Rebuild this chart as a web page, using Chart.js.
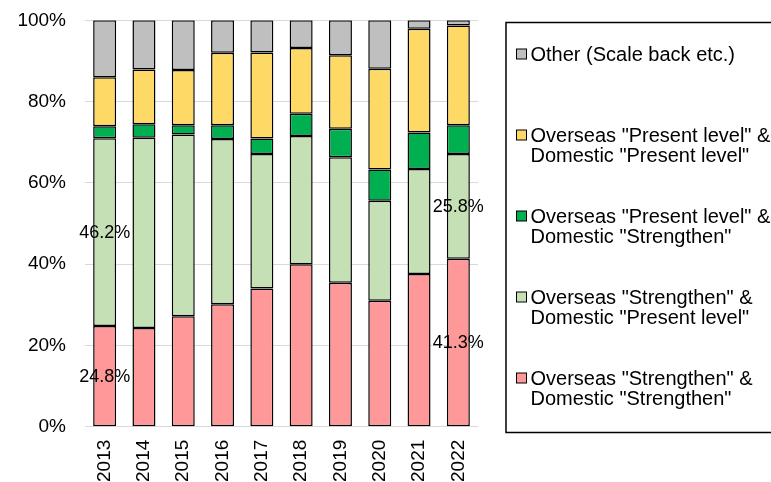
<!DOCTYPE html>
<html>
<head>
<meta charset="utf-8">
<script src="https://cdn.jsdelivr.net/npm/chart.js@4.4.1/dist/chart.umd.min.js"></script>
<style>
  html, body { margin: 0; padding: 0; background: #fff; }
  #wrap { width: 771px; height: 482px; position: relative; }
</style>
</head>
<body>
<div id="wrap"><canvas id="c" width="771" height="482"></canvas></div>
<script>
// Survey years
const years = ['2013', '2014', '2015', '2016', '2017', '2018', '2019', '2020', '2021', '2022'];

// Share of responses per year (%), bottom to top of each stack
const strengthenBoth      = [24.8, 24.3, 27.2, 30.1, 34.0, 40.0, 35.4, 31.0, 37.6, 41.3];
const strengthenOverseas  = [46.2, 46.8, 44.7, 40.7, 33.1, 31.5, 30.9, 24.6, 25.8, 25.8];
const strengthenDomestic  = [2.9, 3.3, 2.3, 3.4, 3.8, 5.5, 7.0, 7.7, 9.0, 7.1];
const presentBoth         = [12.1, 13.5, 13.6, 17.8, 21.2, 16.2, 18.1, 24.8, 25.5, 24.5];
const otherShare          = [14.0, 12.1, 12.2, 8.0, 7.9, 6.8, 8.6, 11.9, 2.1, 1.3];

// Series names (one entry per legend line)
const seriesNames = [
  ['Overseas "Strengthen" &', 'Domestic "Strengthen"'],
  ['Overseas "Strengthen" &', 'Domestic "Present level"'],
  ['Overseas "Present level" &', 'Domestic "Strengthen"'],
  ['Overseas "Present level" &', 'Domestic "Present level"'],
  ['Other (Scale back etc.)']
];
const seriesColors = ['#ff9999', '#c5e0b4', '#00b050', '#ffd966', '#bfbfbf'];

// Tick labels on the value axis
const percentTicks = [0, 20, 40, 60, 80, 100];

// Segments that carry a printed value: [dataset index, year index]
const labelledSegments = [[0, 0], [1, 0], [0, 9], [1, 9]];

const FONT = '"Liberation Sans", Arial, sans-serif';
const seriesValues = [strengthenBoth, strengthenOverseas, strengthenDomestic, presentBoth, otherShare];

const segmentLabels = {
  id: 'segmentLabels',
  afterDatasetsDraw(chart) {
    const ctx = chart.ctx;
    ctx.save();
    ctx.font = '18px ' + FONT;
    ctx.fillStyle = '#000';
    ctx.textAlign = 'center';
    ctx.textBaseline = 'middle';
    labelledSegments.forEach(([d, i]) => {
      const el = chart.getDatasetMeta(d).data[i];
      const cy = (el.y + el.base) / 2;
      ctx.fillText(seriesValues[d][i].toFixed(1) + '%', el.x, cy + 1);
    });
    ctx.restore();
  }
};

const sideLegend = {
  id: 'sideLegend',
  afterDraw(chart) {
    const ctx = chart.ctx;
    const boxLeft = 506, boxTop = 22.5, boxBottom = 432.5;
    ctx.save();
    ctx.strokeStyle = '#000';
    ctx.lineWidth = 1.5;
    ctx.strokeRect(boxLeft, boxTop, 300, boxBottom - boxTop);

    ctx.font = '20px ' + FONT;
    ctx.textBaseline = 'middle';
    ctx.textAlign = 'left';
    const order = chart.data.datasets.map((_, i) => i).reverse();
    order.forEach((d, k) => {
      const ds = chart.data.datasets[d];
      const yFirst = 54 + k * 81;
      ctx.fillStyle = ds.backgroundColor;
      ctx.fillRect(516.5, yFirst - 5, 10, 10);
      ctx.strokeStyle = '#000';
      ctx.lineWidth = 1;
      ctx.strokeRect(516.5, yFirst - 5, 10, 10);
      ctx.fillStyle = '#000';
      seriesNames[d].forEach((line, j) => {
        ctx.fillText(line, 530.5, yFirst + j * 20.5 + 1);
      });
    });
    ctx.restore();
  }
};

new Chart(document.getElementById('c'), {
  type: 'bar',
  data: {
    labels: years,
    datasets: seriesValues.map((vals, i) => ({
      label: seriesNames[i].join(' '),
      data: vals,
      backgroundColor: seriesColors[i],
      borderColor: '#000',
      borderWidth: 1.5,
      borderSkipped: false,
      barPercentage: 0.585,
      categoryPercentage: 1
    }))
  },
  options: {
    responsive: false,
    animation: false,
    devicePixelRatio: 1,
    layout: { padding: { top: 20.3, right: 293, bottom: 0, left: 0 } },
    plugins: {
      legend: { display: false },
      tooltip: { enabled: false }
    },
    scales: {
      x: {
        stacked: true,
        grid: { display: false, drawTicks: false },
        border: { display: false },
        ticks: {
          color: '#000',
          font: { family: FONT, size: 19 },
          minRotation: 90,
          maxRotation: 90,
          padding: 13
        },
        afterFit(scale) {
          scale.height = 55.3;
          scale.paddingTop = 0; scale.paddingBottom = 0;
          scale.paddingLeft = 0; scale.paddingRight = 0;
        }
      },
      y: {
        stacked: true,
        min: 0,
        max: 100,
        afterBuildTicks(scale) { scale.ticks = percentTicks.map(v => ({ value: v })); },
        grid: { color: '#d9d9d9', lineWidth: 1, drawTicks: false },
        border: { display: false },
        ticks: {
          color: '#000',
          font: { family: FONT, size: 19 },
          padding: 19,
          callback: v => v + '%'
        },
        afterFit(scale) {
          scale.width = 85;
          scale.paddingTop = 0; scale.paddingBottom = 0;
        }
      }
    }
  },
  plugins: [segmentLabels, sideLegend]
});
</script>
</body>
</html>
